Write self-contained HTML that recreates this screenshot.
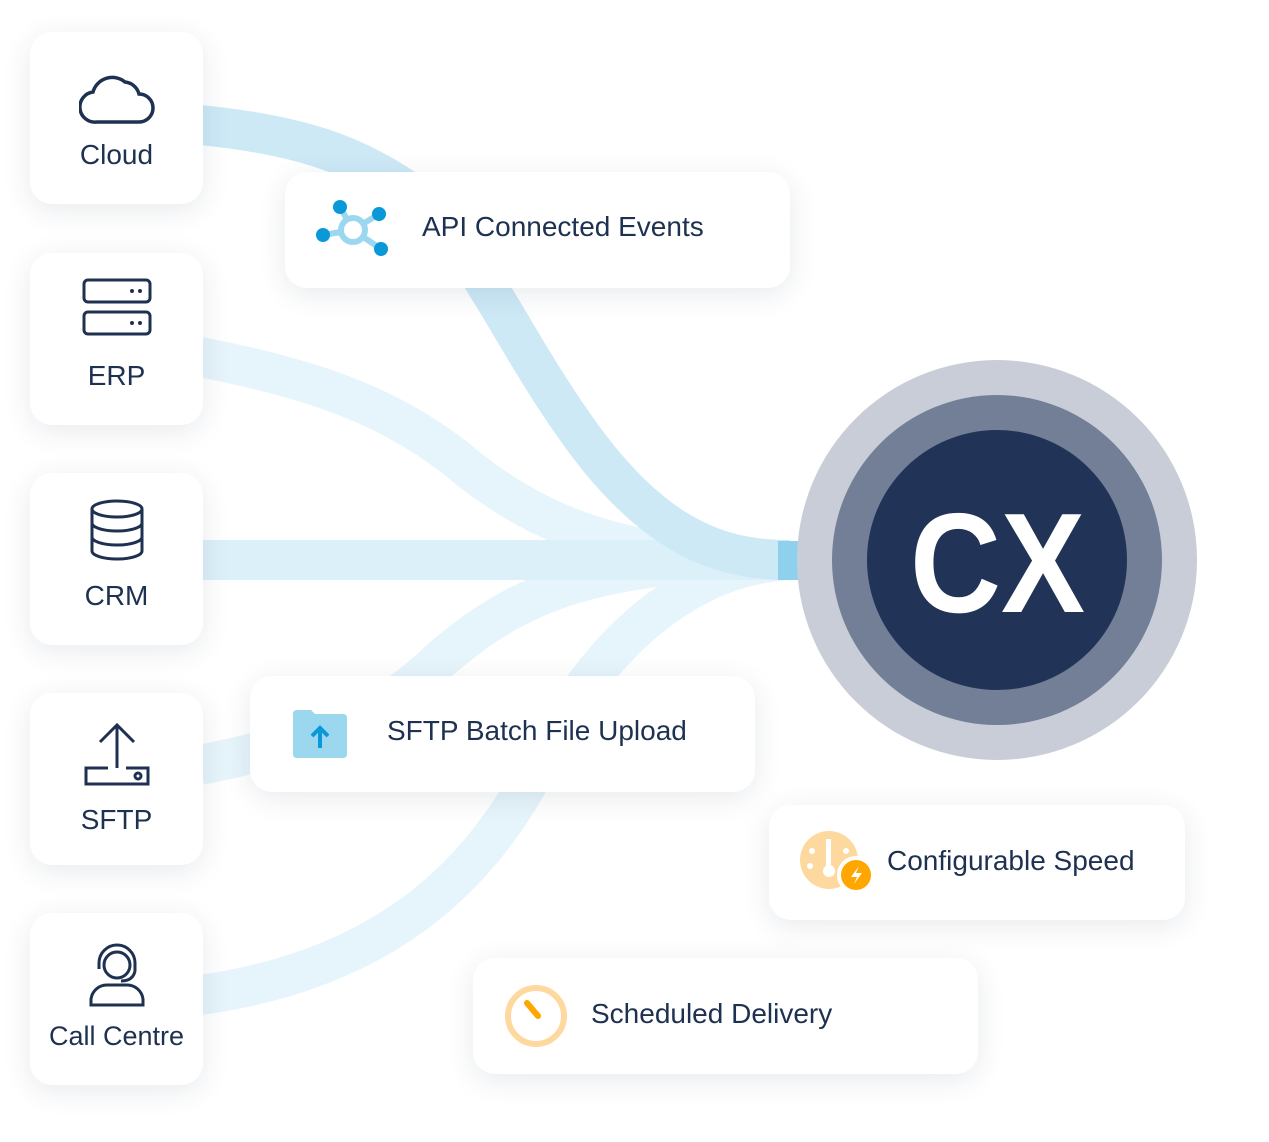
<!DOCTYPE html>
<html><head><style>
body{margin:0;width:1269px;height:1142px;background:#fff;position:relative;overflow:hidden;font-family:"Liberation Sans",sans-serif;color:#1e3150}
.c{position:absolute;background:#fff;border-radius:22px;box-shadow:0 6px 28px rgba(30,49,80,0.10)}
.l{left:30px;width:173px;height:172px;font-size:28px}
.l svg{position:absolute;left:50%;transform:translateX(-50%)}
.l span{position:absolute;left:0;right:0;top:107px;line-height:32px;text-align:center}
.f{font-size:28px;display:flex;align-items:center}
</style></head><body>
<svg width="1269" height="1142" style="position:absolute;left:0;top:0">
<g fill="none" stroke-width="40" stroke-linecap="butt">
<path d="M200,357 C320,380 400,410 470,470 C560,540 650,560 790,560" stroke="#e6f4fb"/>
<path d="M200,765 C300,745 380,720 440,660 C520,590 600,560 790,560" stroke="#e6f4fb"/>
<path d="M200,995 C380,970 480,880 540,760 C600,640 690,565 790,560" stroke="#e6f4fb"/>
<path d="M200,560 L790,560" stroke="#dcf0f9"/>
<path d="M200,125 C300,135 360,155 420,200 C480,250 520,360 600,460 C670,545 730,560 790,560" stroke="#cde9f6"/>
</g>
<rect x="778" y="541" width="34" height="39" fill="#8fd1ec"/>
<circle cx="997" cy="560" r="200" fill="#c9cdd8"/>
<circle cx="997" cy="560" r="165" fill="#737e97"/>
<circle cx="997" cy="560" r="130" fill="#213457"/>
<text x="910" y="612" font-family="Liberation Sans" font-weight="bold" font-size="142" fill="#fff" textLength="175" lengthAdjust="spacingAndGlyphs">CX</text>
</svg>
<div class="c l" style="top:32px"><svg width="76" height="56" viewBox="0 0 76 56" style="top:38px"><path d="M18,52 H60 A14,14 0 0 0 60,24 A16,16 0 0 0 46,12 A20,20 0 0 0 14,22 A15,15 0 0 0 18,52Z" fill="none" stroke="#1e3150" stroke-width="3.5"/></svg><span>Cloud</span></div>
<div class="c l" style="top:253px"><svg width="70" height="60" viewBox="0 0 70 60" style="top:24px"><rect x="2" y="3" width="66" height="22" rx="4" fill="none" stroke="#1e3150" stroke-width="3"/><rect x="2" y="35" width="66" height="22" rx="4" fill="none" stroke="#1e3150" stroke-width="3"/><circle cx="50" cy="14" r="2" fill="#1e3150"/><circle cx="58" cy="14" r="2" fill="#1e3150"/><circle cx="50" cy="46" r="2" fill="#1e3150"/><circle cx="58" cy="46" r="2" fill="#1e3150"/></svg><span>ERP</span></div>
<div class="c l" style="top:473px"><svg width="56" height="62" viewBox="0 0 56 62" style="top:26px"><g fill="none" stroke="#1e3150" stroke-width="3"><ellipse cx="28" cy="10" rx="25" ry="8"/><path d="M3,10 V52 A25,8 0 0 0 53,52 V10 M3,24 A25,8 0 0 0 53,24 M3,38 A25,8 0 0 0 53,38"/></g></svg><span>CRM</span></div>
<div class="c l" style="top:693px"><svg width="66" height="66" viewBox="0 0 66 66" style="top:29px"><g fill="none" stroke="#1e3150" stroke-width="3"><path d="M33,46 V4 M16,20 L33,3 L50,20 M24,46 H2 V62 H64 V46 H42"/><circle cx="54" cy="54" r="3"/></g></svg><span style="top:111px">SFTP</span></div>
<div class="c l" style="top:913px;font-size:27px"><svg width="60" height="64" viewBox="0 0 60 64" style="top:30px"><g fill="none" stroke="#1e3150" stroke-width="3"><circle cx="30" cy="22" r="13"/><path d="M12,26 V20 A18,18 0 0 1 48,20 V28 M48,28 Q46,38 34,38 M4,62 V56 A16,16 0 0 1 20,42 H40 A16,16 0 0 1 56,56 V62 Z"/></g></svg><span>Call Centre</span></div>
<div class="c f" style="left:285px;top:172px;width:505px;height:116px"><svg width="80" height="66" viewBox="0 0 80 66" style="margin-left:28px"><g stroke="#9bd8f0" stroke-width="6"><line x1="40" y1="33" x2="27" y2="10"/><line x1="40" y1="33" x2="66" y2="17"/><line x1="40" y1="33" x2="10" y2="38"/><line x1="40" y1="33" x2="68" y2="52"/></g><circle cx="40" cy="33" r="12" fill="#fff" stroke="#9bd8f0" stroke-width="6"/><g fill="#0a98d8"><circle cx="27" cy="10" r="7"/><circle cx="66" cy="17" r="7"/><circle cx="10" cy="38" r="7"/><circle cx="68" cy="52" r="7"/></g></svg><span style="margin-left:29px;margin-top:-6px">API Connected Events</span></div>
<div class="c f" style="left:250px;top:676px;width:505px;height:116px"><svg width="54" height="48" viewBox="0 0 54 48" style="margin-left:43px"><path d="M0,4 Q0,0 4,0 H18 L22,4 H50 Q54,4 54,8 V44 Q54,48 50,48 H4 Q0,48 0,44Z" fill="#9bd8f0"/><path d="M27,38 V18 M19,26 L27,18 L35,26" fill="none" stroke="#0a98d8" stroke-width="4"/></svg><span style="margin-left:40px;margin-top:-6px">SFTP Batch File Upload</span></div>
<div class="c f" style="left:769px;top:805px;width:416px;height:115px"><svg width="76" height="64" viewBox="0 0 76 64" style="margin-left:30px"><circle cx="30" cy="29" r="29" fill="#fdd9a0"/><rect x="27" y="8" width="5" height="30" fill="#fff"/><circle cx="30" cy="40" r="6" fill="#fff"/><circle cx="13" cy="20" r="3" fill="#fff"/><circle cx="47" cy="20" r="3" fill="#fff"/><circle cx="11" cy="35" r="3" fill="#fff"/><circle cx="57" cy="44" r="17" fill="#ffa600" stroke="#fff" stroke-width="4"/><path d="M60,35 L52,46 H58 L55,53 L63,42 H57Z" fill="#fff"/></svg><span style="margin-left:12px;margin-top:-4px">Configurable Speed</span></div>
<div class="c f" style="left:473px;top:958px;width:505px;height:116px"><svg width="66" height="66" viewBox="0 0 66 66" style="margin-left:30px"><circle cx="33" cy="33" r="28" fill="none" stroke="#fdd9a0" stroke-width="6"/><line x1="24" y1="20" x2="35" y2="33" stroke="#ffa600" stroke-width="6" stroke-linecap="round"/></svg><span style="margin-left:22px;margin-top:-4px">Scheduled Delivery</span></div>
</body></html>
